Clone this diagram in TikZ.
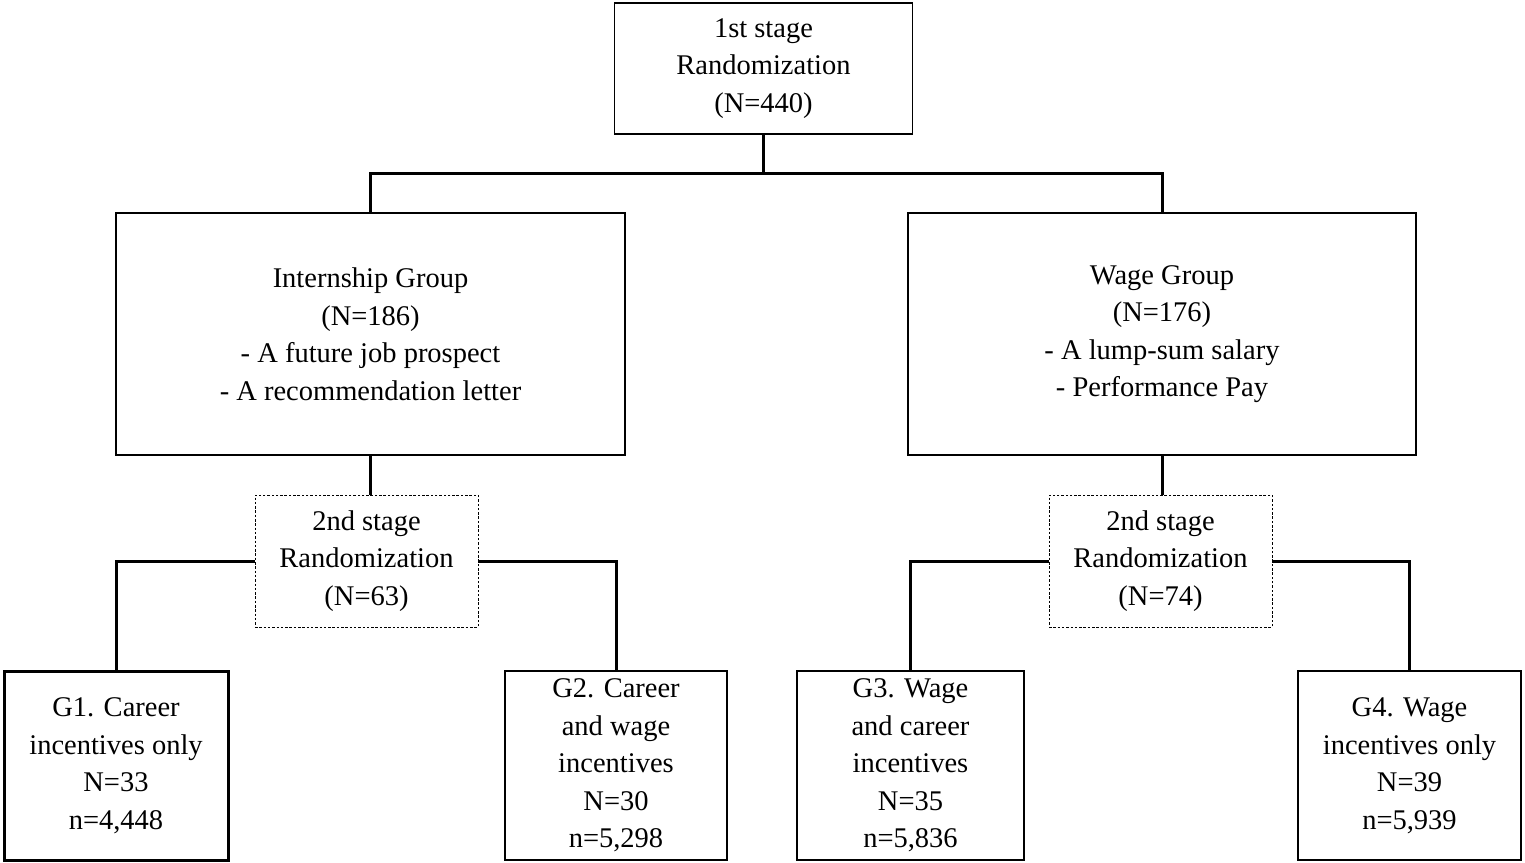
\documentclass[tikz,border=0pt]{standalone}
\usepackage{fontspec}
\setmainfont{Liberation Serif}
\begin{document}
\begin{tikzpicture}[x=1pt,y=-1pt,
  box/.style={draw,line width=1.8pt,rectangle,align=center,inner sep=0pt,
    font=\fontsize{28.5}{37.5}\selectfont},
  dotbox/.style={box,line width=0.9pt,dash pattern=on 2.5pt off 1.8pt},
  thickbox/.style={box,line width=3pt},
  conn/.style={line width=3pt}]
\useasboundingbox (0,0) rectangle (1525,862);
\node[box,minimum width=298pt,minimum height=131pt] (top) at (763.5,68.5)
  {1st stage\\Randomization\\(N=440)};
\node[box,minimum width=509pt,minimum height=242pt] (intern) at (370.5,334)
  {Internship Group\\(N=186)\\- A future job prospect\\- A recommendation letter};
\node[box,minimum width=508pt,minimum height=242pt] (wage) at (1162,334)
  {Wage Group\\(N=176)\\- A lump-sum salary\\- Performance Pay};
\node[dotbox,minimum width=223pt,minimum height=132pt] (r2l) at (366.5,561)
  {2nd stage\\Randomization\\(N=63)};
\node[dotbox,minimum width=223pt,minimum height=132pt] (r2r) at (1160.5,561)
  {2nd stage\\Randomization\\(N=74)};
\node[thickbox,minimum width=224pt,minimum height=189pt] (g1) at (116,765.5)
  {G1. Career\\incentives only\\N=33\\n=4,448};
\node[box,minimum width=222pt,minimum height=189pt] (g2) at (616,765.5)
  {G2. Career\\and wage\\incentives\\N=30\\n=5,298};
\node[box,minimum width=227pt,minimum height=189pt] (g3) at (910.5,765.5)
  {G3. Wage\\and career\\incentives\\N=35\\n=5,836};
\node[box,minimum width=223pt,minimum height=189pt] (g4) at (1409.5,765.5)
  {G4. Wage\\incentives only\\N=39\\n=5,939};
\coordinate (split) at (763.5,173);
\draw[conn] (top.south) -- (split);
\draw[conn] (split) -| (intern.north);
\draw[conn] (split) -| (wage.north);
\draw[conn] (intern.south) -- (intern.south |- r2l.north);
\draw[conn] (wage.south) -- (wage.south |- r2r.north);
\draw[conn] (r2l.west) -| (g1.north);
\draw[conn] (r2l.east) -| (g2.north);
\draw[conn] (r2r.west) -| (g3.north);
\draw[conn] (r2r.east) -| (g4.north);
\end{tikzpicture}
\end{document}
